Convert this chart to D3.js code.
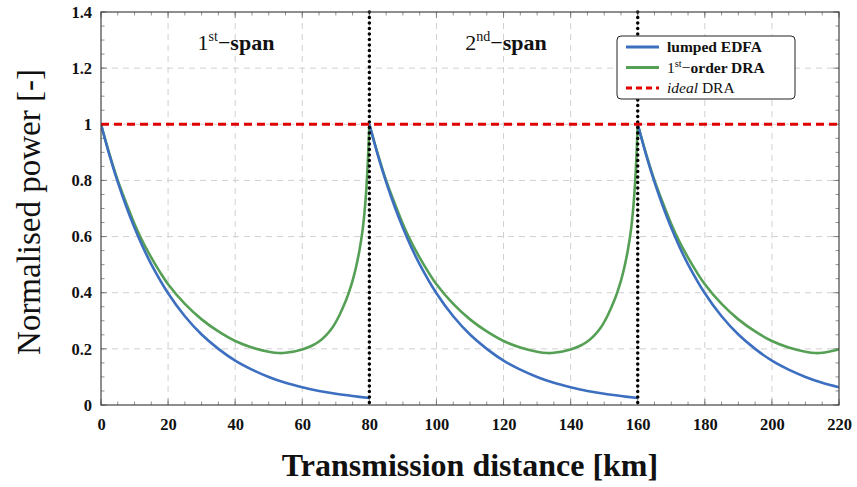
<!DOCTYPE html>
<html><head><meta charset="utf-8">
<script src="https://cdn.jsdelivr.net/npm/d3@7"></script>
<style>body{margin:0;background:#fff}</style>
</head><body><svg id="c" width="857" height="487"></svg>
<script>
// ---- data ----
const xTicks = [0,20,40,60,80,100,120,140,160,180,200,220];
const yTicks = [0,0.2,0.4,0.6,0.8,1,1.2,1.4];
const yTickLabels = ["0","0.2","0.4","0.6","0.8","1","1.2","1.4"];
const spanBoundaries = [80,160];
const idealLevel = [1];

const edfaDistance = [0,2.5,5,7.5,10,12.5,15,20,25,30,35,40,45,50,55,60,65,70,75,80,
  80,82.5,85,87.5,90,92.5,95,100,105,110,115,120,125,130,135,140,145,150,155,160,
  160,162.5,165,167.5,170,172.5,175,180,185,190,195,200,205,210,215,220];
const edfaPower = [1,0.891,0.794,0.708,0.631,0.562,0.501,0.398,0.316,0.251,0.2,0.158,0.126,0.1,0.079,0.063,0.05,0.04,0.032,0.025,
  1,0.891,0.794,0.708,0.631,0.562,0.501,0.398,0.316,0.251,0.2,0.158,0.126,0.1,0.079,0.063,0.05,0.04,0.032,0.025,
  1,0.891,0.794,0.708,0.631,0.562,0.501,0.398,0.316,0.251,0.2,0.158,0.126,0.1,0.079,0.063];

const draDistance = [0,2.5,5,7.5,10,12.5,15,17.5,20,25,30,35,40,45,50,53,55,60,63,65,67,69,71,73,74,75,76,77,78,78.5,79,79.5,80,
  82.5,85,87.5,90,92.5,95,97.5,100,105,110,115,120,125,130,133,135,140,143,145,147,149,151,153,154,155,156,157,158,158.5,159,159.5,160,
  162.5,165,167.5,170,172.5,175,177.5,180,185,190,195,200,205,210,213,215,220];
const draPower = [1,0.895,0.8,0.72,0.645,0.58,0.525,0.475,0.43,0.36,0.305,0.262,0.228,0.205,0.19,0.185,0.186,0.198,0.212,0.226,0.247,0.276,0.318,0.372,0.405,0.443,0.49,0.548,0.625,0.68,0.752,0.855,1,
  0.895,0.8,0.72,0.645,0.58,0.525,0.475,0.43,0.36,0.305,0.262,0.228,0.205,0.19,0.185,0.186,0.198,0.212,0.226,0.247,0.276,0.318,0.372,0.405,0.443,0.49,0.548,0.625,0.68,0.752,0.855,1,
  0.895,0.8,0.72,0.645,0.58,0.525,0.475,0.43,0.36,0.305,0.262,0.228,0.205,0.19,0.185,0.186,0.198];

// ---- drawing ----
const svg = d3.select("#c");
const L=101, R=839, T=12, B=405;
const x = d3.scaleLinear().domain([0,220]).range([L,R]);
const y = d3.scaleLinear().domain([0,1.4]).range([B,T]);
const serif = "'Liberation Serif','DejaVu Serif',serif";
const blue="#3d6fc0", green="#55a055", red="#e00000";

// grid
const g = svg.append("g");
g.selectAll(".gx").data(xTicks.slice(1,-1)).enter().append("line")
 .attr("x1",d=>x(d)).attr("x2",d=>x(d)).attr("y1",T).attr("y2",B)
 .attr("stroke","#d0d0d0").attr("stroke-dasharray","6,5");
g.selectAll(".gy").data(yTicks.slice(1,-1)).enter().append("line")
 .attr("y1",d=>y(d)).attr("y2",d=>y(d)).attr("x1",L).attr("x2",R)
 .attr("stroke","#d0d0d0").attr("stroke-dasharray","6,5");

// axes with inside ticks
const xMinor = d3.range(0,221,5), yMinor = d3.range(0,1.401,0.05);
function ticks(sel, data, horiz, len){
  sel.selectAll(null).data(data).enter().append("line")
   .attr("stroke","#777").attr("stroke-width",0.8)
   .each(function(d){
     const s=d3.select(this);
     if(horiz){ s.attr("x1",x(d)).attr("x2",x(d)).attr("y1",len[0]).attr("y2",len[1]); }
     else { s.attr("y1",y(d)).attr("y2",y(d)).attr("x1",len[0]).attr("x2",len[1]); }
   });
}
const tg = svg.append("g");
ticks(tg,xMinor,true,[B,B-3.5]); ticks(tg,xMinor,true,[T,T+3.5]);
ticks(tg,yMinor,false,[L,L+3.5]); ticks(tg,yMinor,false,[R,R-3.5]);
ticks(tg,xTicks,true,[B,B-6]); ticks(tg,xTicks,true,[T,T+6]);
ticks(tg,yTicks,false,[L,L+6]); ticks(tg,yTicks,false,[R,R-6]);

const xAxis = svg.append("g").attr("transform",`translate(0,${B})`)
 .call(d3.axisBottom(x).tickValues(xTicks).tickSize(0).tickPadding(9).tickFormat(d3.format("d")));
const yAxis = svg.append("g").attr("transform",`translate(${L},0)`)
 .call(d3.axisLeft(y).tickValues(yTicks).tickSize(0).tickPadding(9).tickFormat((d,i)=>yTickLabels[i]));
[xAxis,yAxis].forEach(a=>{a.select(".domain").remove();
 a.selectAll("text").attr("font-family",serif).attr("font-weight","bold").attr("font-size",16.5).attr("fill","#111");});
xAxis.selectAll("text").attr("dy","0.95em");

// lines
const line = (xs,ys)=>d3.line().x((d,i)=>x(xs[i])).y((d,i)=>y(ys[i])).curve(d3.curveCatmullRom.alpha(0.5));
function segsByRepeat(xs){ // split on repeated distance (span restarts)
  const out=[]; let cur=[];
  xs.forEach((v,i)=>{ if(i>0 && v===xs[i-1]){out.push(cur);cur=[];} cur.push(i);});
  out.push(cur); return out;
}
function segsByPeak(xs){ // split at interior span boundaries (peaks), sharing the peak point
  const out=[]; let cur=[];
  xs.forEach((v,i)=>{ cur.push(i); if(i>0 && i<xs.length-1 && spanBoundaries.includes(v)){out.push(cur);cur=[i];} });
  out.push(cur); return out;
}
svg.append("clipPath").attr("id","pc").append("rect").attr("x",L).attr("y",T-5).attr("width",R-L).attr("height",B-T+5);
const lg = svg.append("g").attr("clip-path","url(#pc)");
function drawSegs(segs, xsAll, ysAll, color){
  segs.forEach(idx=>{
    const xs=idx.map(i=>xsAll[i]), ys=idx.map(i=>ysAll[i]);
    lg.append("path").datum(ys).attr("fill","none").attr("stroke",color).attr("stroke-width",2.6)
      .attr("stroke-linejoin","round").attr("d",line(xs,ys));
  });
}
drawSegs(segsByPeak(draDistance), draDistance, draPower, green);
drawSegs(segsByRepeat(edfaDistance), edfaDistance, edfaPower, blue);

svg.selectAll(".sb").data(spanBoundaries).enter().append("line")
 .attr("x1",d=>x(d)).attr("x2",d=>x(d)).attr("y1",T).attr("y2",B)
 .attr("stroke","#000").attr("stroke-width",3.5).attr("stroke-dasharray","0,5.5").attr("stroke-linecap","round");
svg.selectAll(".id").data(idealLevel).enter().append("line")
 .attr("x1",L).attr("x2",R).attr("y1",d=>y(d)).attr("y2",d=>y(d))
 .attr("stroke",red).attr("stroke-width",3).attr("stroke-dasharray","8,5");

// frame
svg.append("rect").attr("x",L).attr("y",T).attr("width",R-L).attr("height",B-T)
 .attr("fill","none").attr("stroke","#444").attr("stroke-width",1.2);

// span labels
function spanLabel(cx, num, sup){
  const t = svg.append("text").attr("x",cx).attr("y",50).attr("text-anchor","middle")
   .attr("font-family",serif).attr("font-size",22).attr("fill","#111");
  t.append("tspan").text(num);
  t.append("tspan").attr("font-size",14).attr("dy",-9).text(sup);
  t.append("tspan").attr("dy",9).text("\u2212");
  t.append("tspan").attr("font-weight","bold").text("span");
}
spanLabel(236,"1","st");
spanLabel(506,"2","nd");

// legend
const lx=617, ly=36;
svg.append("rect").attr("x",lx).attr("y",ly).attr("width",178).attr("height",63).attr("rx",4)
 .attr("fill","#fff").attr("stroke","#222").attr("stroke-width",1);
const legendItems=[{c:blue,dash:null},{c:green,dash:null},{c:red,dash:"6,4"}];
legendItems.forEach((it,i)=>{
  const yy=ly+11+i*20.5;
  svg.append("line").attr("x1",lx+9).attr("x2",lx+42).attr("y1",yy).attr("y2",yy)
   .attr("stroke",it.c).attr("stroke-width",2.8).attr("stroke-dasharray",it.dash);
});
const tf=(i)=>svg.append("text").attr("x",lx+50).attr("y",ly+16+i*20.5)
 .attr("font-family",serif).attr("font-size",15.5).attr("fill","#111");
tf(0).attr("font-weight","bold").text("lumped EDFA");
{const t=tf(1); t.append("tspan").text("1"); t.append("tspan").attr("font-size",10.5).attr("dy",-6).text("st");
 t.append("tspan").attr("dy",6).text("\u2212"); t.append("tspan").attr("font-weight","bold").text("order DRA");}
{const t=tf(2); t.append("tspan").attr("font-style","italic").text("ideal"); t.append("tspan").text(" DRA");}

// axis titles
svg.append("text").attr("x",470).attr("y",476).attr("text-anchor","middle")
 .attr("font-family",serif).attr("font-weight","bold").attr("font-size",32).attr("fill","#111")
 .text("Transmission distance [km]");
svg.append("text").attr("transform","translate(40,212) rotate(-90)").attr("text-anchor","middle")
 .attr("font-family",serif).attr("font-size",33).attr("fill","#111")
 .text("Normalised power [-]");
</script></body></html>
